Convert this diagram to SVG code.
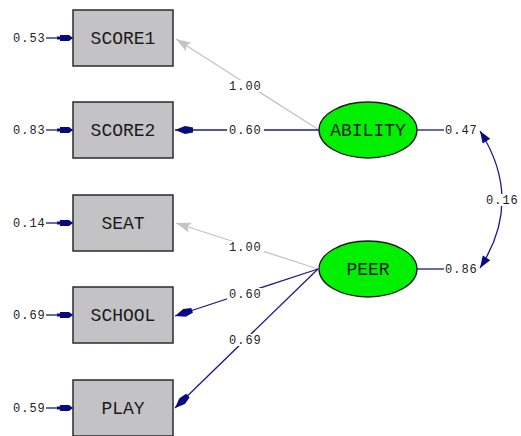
<svg xmlns="http://www.w3.org/2000/svg" width="521" height="436" viewBox="0 0 521 436">
<style>
.box{fill:#c3c2c5;stroke:#2b2b2b;stroke-width:1.5}
.lat{fill:#00f000;stroke:#1a1a1a;stroke-width:1.3}
.nl{font-family:"Liberation Mono","Courier New",monospace;font-size:18px;fill:#1a1a1a;text-anchor:middle}
.num{font-family:"Liberation Mono","Courier New",monospace;font-size:12px;letter-spacing:1px;fill:#222}
.nv{stroke:#1a1a8c;stroke-width:1.3;fill:none}
.gr{stroke:#c4c4c4;stroke-width:1.3;fill:none}
.bg{fill:#fff}
</style>
<defs>
<marker id="an" viewBox="-19 -5 20 10" refX="0" refY="0" markerWidth="20" markerHeight="10" markerUnits="userSpaceOnUse" orient="auto">
<path d="M0,0 L-10,-4 L-18,-2.5 L-18,2.5 L-10,4 Z" fill="#0a0a80"/>
</marker>
<marker id="ag" viewBox="-16 -6 17 12" refX="0" refY="0" markerWidth="17" markerHeight="12" markerUnits="userSpaceOnUse" orient="auto">
<path d="M0,0 L-15,-5 L-12,0 L-15,5 Z" fill="#c4c4c4"/>
</marker>
<marker id="ae" viewBox="-17 -5 18 10" refX="0" refY="0" markerWidth="18" markerHeight="10" markerUnits="userSpaceOnUse" orient="auto">
<path d="M0,0 L-4,-3 L-13,-3 L-13,-1.5 L-16,-1.5 L-16,1.5 L-13,1.5 L-13,3 L-4,3 Z" fill="#0a0a80"/>
</marker>
<marker id="ac" viewBox="-13 -5 14 10" refX="0" refY="0" markerWidth="14" markerHeight="10" markerUnits="userSpaceOnUse" orient="auto-start-reverse">
<path d="M0,0 L-12,-4.5 L-12,4.5 Z" fill="#0a0a80"/>
</marker>
</defs>
<rect width="521" height="436" fill="#fff"/>
<g id="connectors">
<line class="gr" x1="319" y1="130" x2="176" y2="39" marker-end="url(#ag)"/>
<line class="nv" x1="319" y1="130" x2="175" y2="130" marker-end="url(#an)"/>
<line class="gr" x1="318" y1="269" x2="176" y2="223" marker-end="url(#ag)"/>
<line class="nv" x1="318" y1="269" x2="175" y2="316" marker-end="url(#an)"/>
<line class="nv" x1="318" y1="269" x2="175" y2="408" marker-end="url(#an)"/>
<line class="nv" x1="46" y1="38" x2="73" y2="38" marker-end="url(#ae)"/>
<line class="nv" x1="46" y1="130" x2="73" y2="130" marker-end="url(#ae)"/>
<line class="nv" x1="46" y1="223" x2="73" y2="223" marker-end="url(#ae)"/>
<line class="nv" x1="46" y1="315" x2="73" y2="315" marker-end="url(#ae)"/>
<line class="nv" x1="46" y1="408" x2="73" y2="408" marker-end="url(#ae)"/>
<line class="nv" x1="417" y1="130" x2="444" y2="130"/>
<line class="nv" x1="417" y1="269" x2="444" y2="269"/>
<path class="nv" d="M480,131 Q524,200 480,268" marker-start="url(#ac)" marker-end="url(#ac)"/>
<rect class="bg" x="227" y="80" width="37" height="12"/>
<rect class="bg" x="227" y="124" width="37" height="12"/>
<rect class="bg" x="227" y="241" width="37" height="12"/>
<rect class="bg" x="227" y="288" width="37" height="12"/>
<rect class="bg" x="227" y="334" width="37" height="12"/>
<rect class="bg" x="484" y="194" width="37" height="12"/>
<text class="num" x="229" y="90">1.00</text>
<text class="num" x="229" y="134">0.60</text>
<text class="num" x="229" y="251">1.00</text>
<text class="num" x="229" y="298">0.60</text>
<text class="num" x="229" y="344">0.69</text>
<text class="num" x="486" y="204">0.16</text>
<text class="num" x="445" y="134">0.47</text>
<text class="num" x="445" y="273">0.86</text>
<text class="num" x="13" y="42">0.53</text>
<text class="num" x="13" y="134">0.83</text>
<text class="num" x="13" y="227">0.14</text>
<text class="num" x="13" y="319">0.69</text>
<text class="num" x="13" y="412">0.59</text>
</g>
<g id="SCORE1"><rect class="box" x="73" y="10" width="100" height="56"/><text class="nl" x="123" y="44">SCORE1</text></g>
<g id="SCORE2"><rect class="box" x="73" y="102" width="100" height="56"/><text class="nl" x="123" y="136">SCORE2</text></g>
<g id="SEAT"><rect class="box" x="73" y="195" width="100" height="56"/><text class="nl" x="123" y="229">SEAT</text></g>
<g id="SCHOOL"><rect class="box" x="73" y="287" width="100" height="56"/><text class="nl" x="123" y="321">SCHOOL</text></g>
<g id="PLAY"><rect class="box" x="73" y="380" width="100" height="56"/><text class="nl" x="123" y="414">PLAY</text></g>
<g id="ABILITY"><ellipse class="lat" cx="368" cy="130" rx="49" ry="28"/><text class="nl" x="368" y="136">ABILITY</text></g>
<g id="PEER"><ellipse class="lat" cx="368" cy="269" rx="49" ry="28"/><text class="nl" x="368" y="275">PEER</text></g>
</svg>
